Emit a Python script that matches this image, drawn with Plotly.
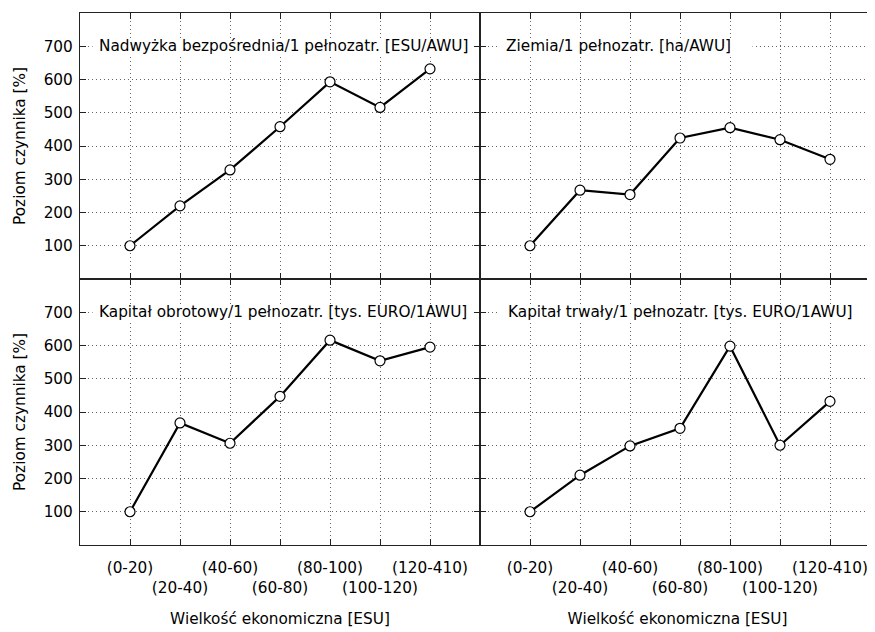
import plotly.graph_objects as go

categories = ["(0-20)", "(20-40)", "(40-60)", "(60-80)", "(80-100)", "(100-120)", "(120-410)"]
nadwyzka = [100, 220, 328, 458, 593, 516, 632]
ziemia = [100, 267, 254, 424, 455, 419, 360]
kap_obrotowy = [100, 367, 306, 447, 616, 554, 595]
kap_trwaly = [100, 210, 298, 351, 598, 300, 432]
titles = [
    "Nadwyżka bezpośrednia/1 pełnozatr. [ESU/AWU]",
    "Ziemia/1 pełnozatr. [ha/AWU]",
    "Kapitał obrotowy/1 pełnozatr. [tys. EURO/1AWU]",
    "Kapitał trwały/1 pełnozatr. [tys. EURO/1AWU]",
]
y_ticks = [100, 200, 300, 400, 500, 600, 700]
y_title = "Poziom czynnika [%]"
x_title = "Wielkość ekonomiczna [ESU]"

FONT = "DejaVu Sans"
FS = 15.3
# the page body has an 8px margin, so the figure is 8px smaller and offset
W, H = 867, 624
ml, mr, mt, mb = 72, 0, 5, 87
pw = W - ml - mr
ph = H - mt - mb
split = 400 / pw

xpos = list(range(len(categories)))
ticktext = [c if i % 2 == 0 else "<br>" + c for i, c in enumerate(categories)]

series = [nadwyzka, ziemia, kap_obrotowy, kap_trwaly]
axes = [("x", "y"), ("x2", "y2"), ("x3", "y3"), ("x4", "y4")]

fig = go.Figure()
for s, (xa, ya) in zip(series, axes):
    fig.add_trace(go.Scatter(
        x=xpos, y=s, xaxis=xa, yaxis=ya, mode="lines+markers",
        line=dict(color="black", width=2.2),
        marker=dict(symbol="circle", size=10, color="white",
                    line=dict(color="black", width=1.2)),
        showlegend=False, cliponaxis=False,
    ))

grid = dict(showgrid=True, gridcolor="#666", griddash="1px,3px", gridwidth=1,
            zeroline=False, ticks="inside", ticklen=6, tickcolor="#222",
            linecolor="#222", linewidth=1.2, showline=True)

layout = dict(
    width=W, height=H, plot_bgcolor="white", paper_bgcolor="white",
    margin=dict(l=ml, r=mr, t=mt, b=mb, autoexpand=False),
    font=dict(family=FONT, size=FS, color="black"),
)

xdoms = [[0, split], [split, 1], [0, split], [split, 1]]
ydoms = [[0.5, 1], [0.5, 1], [0, 0.5], [0, 0.5]]
xranges = [[-1, 7], [-1, -1 + (pw - 400) / 50], [-1, 7], [-1, -1 + (pw - 400) / 50]]

for i in range(4):
    xn = "xaxis" if i == 0 else f"xaxis{i+1}"
    yn = "yaxis" if i == 0 else f"yaxis{i+1}"
    ya = "y" if i == 0 else f"y{i+1}"
    xa = "x" if i == 0 else f"x{i+1}"
    bottom = i >= 2
    left = i % 2 == 0
    xd = dict(grid, domain=xdoms[i], range=xranges[i], anchor=ya,
              tickvals=xpos, ticktext=ticktext, showticklabels=bottom,
              tickangle=0, mirror="ticks", automargin=bottom,
              ticklabelstandoff=9)
    if bottom:
        xd["title"] = dict(text=x_title, standoff=16, font=dict(size=FS))
    yd = dict(grid, domain=ydoms[i], range=[0, 800], anchor=xa,
              tickvals=y_ticks, showticklabels=left, ticklabelstandoff=3,
              mirror="ticks" if left else False, automargin=left)
    if left:
        yd["title"] = dict(text=y_title, standoff=14, font=dict(size=FS))
    layout[xn] = xd
    layout[yn] = yd

fig.update_layout(**layout)

# panel labels with white background boxes
label_x = [-0.66, -0.52, -0.66, -0.48]
box_x = [(-0.75, 8), (-0.64, 4.45), (-0.75, 8), (-0.6, 6.8)]
for i in range(4):
    xa = "x" if i == 0 else f"x{i+1}"
    ya = "y" if i == 0 else f"y{i+1}"
    fig.add_shape(type="rect", xref=xa, yref=ya, x0=box_x[i][0], x1=box_x[i][1],
                  y0=676, y1=724, fillcolor="white", line=dict(width=0),
                  layer="between")
    fig.add_annotation(text=titles[i], xref=xa, yref=ya, x=label_x[i], y=700,
                       xanchor="left", yanchor="middle", showarrow=False,
                       font=dict(size=FS, family=FONT, color="black"))

fig.write_html("out.html")
